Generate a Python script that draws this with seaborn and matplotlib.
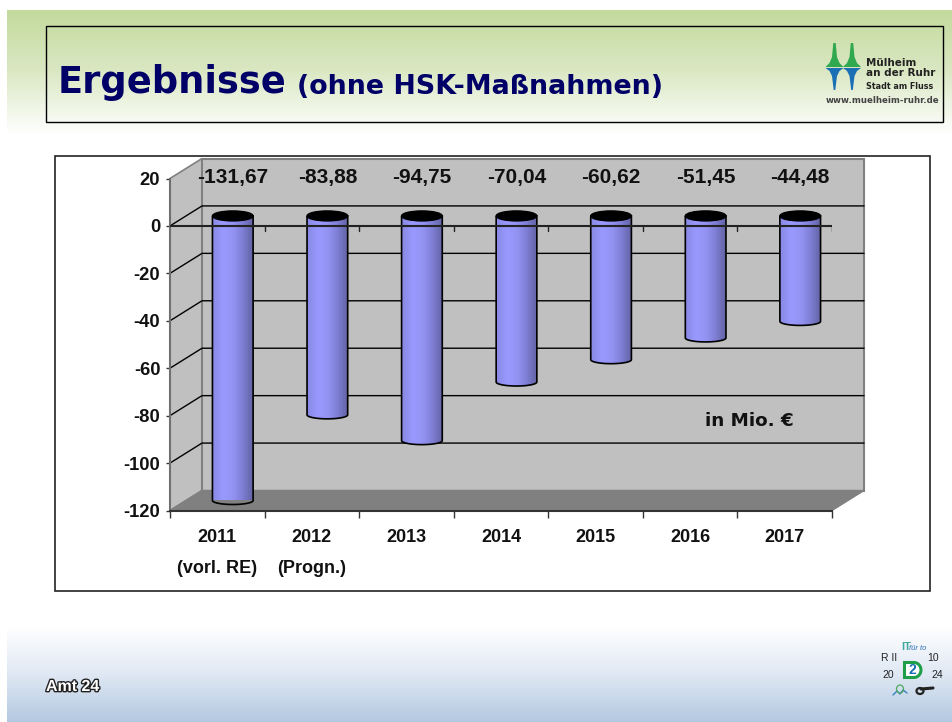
import numpy as np
import pandas as pd
import seaborn as sns
import matplotlib.pyplot as plt
import matplotlib.patheffects as pe
from matplotlib.colors import LinearSegmentedColormap
from matplotlib.patches import Ellipse, PathPatch, Polygon, Rectangle
from matplotlib.path import Path

years = ["2011", "2012", "2013", "2014", "2015", "2016", "2017"]
values = [-131.67, -83.88, -94.75, -70.04, -60.62, -51.45, -44.48]
value_labels = ["-131,67", "-83,88", "-94,75", "-70,04", "-60,62", "-51,45", "-44,48"]
sub_labels = ["(vorl. RE)", "(Progn.)", "", "", "", "", ""]
y_ticks = [20, 0, -20, -40, -60, -80, -100, -120]

W, H = 952, 722
# front plane of the fake 3d chart, pixels
FX0, FX1, FY0, FY1 = 170, 832, 178.5, 510.5
DX, DY = 32, -20  # depth offset of the back wall

sns.set_theme(style="white")
plt.rcParams["font.family"] = ["Liberation Sans", "DejaVu Sans"]


def px_axes(fig, x0, x1, y0, y1, **kw):
    return fig.add_axes([x0 / W, 1 - y1 / H, (x1 - x0) / W, (y1 - y0) / H], **kw)


def y_px(v):
    return FY1 - (v + 120) / 140 * (FY1 - FY0)


fig = plt.figure(figsize=(W / 100, H / 100), dpi=100, facecolor="white")

# background layer in pixel coordinates
bg = fig.add_axes([0, 0, 1, 1], zorder=0)
bg.set_xlim(0, W)
bg.set_ylim(H, 0)
bg.axis("off")

top_cmap = LinearSegmentedColormap.from_list("top", ["#c2da9c", "#dbe8c4", "#ffffff"])
bot_cmap = LinearSegmentedColormap.from_list("bot", ["#ffffff", "#dfe8f3", "#b3c8e1"])
grad = np.linspace(0, 1, 256).reshape(-1, 1)
bg.imshow(grad, cmap=top_cmap, extent=[7, W, 134, 10], aspect="auto", zorder=0)
bg.imshow(grad, cmap=bot_cmap, extent=[7, W, H, 627], aspect="auto", zorder=0)
bg.set_xlim(0, W)
bg.set_ylim(H, 0)

# title box
bg.add_patch(Rectangle((46, 25.5), 897, 96.5, fc="none", ec="black", lw=1, zorder=2))
bg.text(58, 93, "Ergebnisse", family="DejaVu Sans", weight="bold", fontsize=26.5,
        color="#000066", va="baseline", zorder=3)
bg.text(297, 94, "(ohne HSK-Maßnahmen)", family="DejaVu Sans", weight="bold", fontsize=19.4,
        color="#000066", va="baseline", zorder=3)

# city logo
for cx in [834.5, 852]:
    bg.add_patch(Polygon([(cx - 9, 67), (cx - 5, 63), (cx - 2.5, 57), (cx - 1.2, 43), (cx + 1.2, 43),
                          (cx + 2.5, 57), (cx + 5, 63), (cx + 9, 67)],
                         fc="#2fa84f", ec="none", zorder=3))
    bg.add_patch(Polygon([(cx - 9, 68), (cx + 9, 68), (cx + 5, 71), (cx + 2.5, 76), (cx + 0.8, 90),
                          (cx - 0.8, 90), (cx - 2.5, 76), (cx - 5, 71)],
                         fc="#1b6fb5", ec="none", zorder=3))
bg.text(866, 66, "Mülheim", family="DejaVu Sans", weight="bold", fontsize=7.5, color="#222222", va="baseline", zorder=3)
bg.text(866, 76, "an der Ruhr", family="DejaVu Sans", weight="bold", fontsize=7.5, color="#222222", va="baseline", zorder=3)
bg.text(866, 89, "Stadt am Fluss", family="DejaVu Sans", weight="bold", fontsize=5.8, color="#222222", va="baseline", zorder=3)
bg.text(826, 103, "www.muelheim-ruhr.de", family="DejaVu Sans", weight="bold", fontsize=6.2, color="#444444", va="baseline", zorder=3)

# chart frame and walls
bg.add_patch(Rectangle((55, 156), 875, 435, fc="white", ec="#222222", lw=1.2, zorder=2))
wall_ec = "#808080"
bg.add_patch(Polygon([(FX0, FY0), (FX0 + DX, FY0 + DY), (FX0 + DX, FY1 + DY), (FX0, FY1)],
                     fc="#c0c0c0", ec=wall_ec, lw=1.2, zorder=3))
bg.add_patch(Rectangle((FX0 + DX, FY0 + DY), FX1 - FX0, FY1 - FY0, fc="#c0c0c0", ec=wall_ec, lw=1.5, zorder=3))
bg.add_patch(Polygon([(FX0, FY1), (FX0 + DX, FY1 + DY), (FX1 + DX, FY1 + DY), (FX1, FY1)],
                     fc="#808080", ec="#808080", lw=1, zorder=4))
for tick in y_ticks[1:-1]:
    py = y_px(tick)
    bg.plot([FX0, FX0 + DX, FX1 + DX], [py, py + DY, py + DY], color="black", lw=1, zorder=4)

bg.text(705, 426, "in Mio. €", family="DejaVu Sans", weight="bold", fontsize=13.2, color="#111111",
        va="baseline", zorder=5)

# footer
bg.text(46, 691, "Amt 24", weight="bold", fontsize=11.5, color="white", va="baseline", zorder=3,
        path_effects=[pe.withStroke(linewidth=2, foreground="#222222")])
for x, y, s in [(881, 661, "R II"), (927, 661, "10"), (882, 678, "20"), (931, 678, "24")]:
    bg.text(x, y, s, fontsize=7.5, color="#222222", va="baseline", zorder=3)
bg.text(901, 650, "IT", weight="bold", fontsize=8, color="#3fa9a0", va="baseline", zorder=3)
bg.text(909, 650, "für to", style="italic", fontsize=5.5, color="#2a6fb0", va="baseline", zorder=3)
# D mark
arc = [(914 + 7 * np.cos(a), 670 + 7.5 * np.sin(a)) for a in np.linspace(-np.pi / 2, np.pi / 2, 12)]
bg.add_patch(Polygon([(904.5, 662.5)] + arc + [(904.5, 677.5)], fc="white", ec="#1f9e4a", lw=2.2, zorder=3))
bg.text(912, 670, "2", weight="bold", fontsize=10, color="#1b6fb5", ha="center", va="center", zorder=4)
# key and wave icons
bg.plot([921, 933], [689, 688], color="#222222", lw=2.2, zorder=3)
bg.add_patch(Ellipse((920, 691), 7, 6, fc="none", ec="#222222", lw=1.6, zorder=3))
bg.plot([893, 897, 900, 903, 907], [695, 691, 694, 690, 693], color="#3a80c0", lw=1, zorder=3)
bg.add_patch(Ellipse((900, 689), 7, 8, fc="none", ec="#4fa860", lw=0.9, zorder=3))

# bars sit half way into the depth of the chart
df = pd.DataFrame({"year": years, "value": values})
bar_ax = px_axes(fig, FX0 + DX / 2 - 0.5, FX1 + DX / 2 - 0.5, FY0 + DY / 2, FY1 + DY / 2, zorder=1)
bar_ax.patch.set_alpha(0)
sns.barplot(data=df, x="year", y="value", color="#9999ff", width=0.43, saturation=1, ax=bar_ax)
bar_ax.set_xlim(-0.5, 6.5)
bar_ax.set_ylim(-120, 20)
bar_ax.axis("off")

cyl_cmap = LinearSegmentedColormap.from_list("cyl", ["#8a8ae6", "#9999ff", "#9494f4", "#8080d8", "#6666aa"])
cyl_grad = np.round(np.linspace(0, 1, 14) * 13) / 13
cyl_grad = cyl_grad.reshape(1, -1)
units_per_px = 140 / (FY1 - FY0)
cap_h = 10 * units_per_px
foot_h = 8 * units_per_px

for bar, label in zip(bar_ax.patches, value_labels):
    x0, w = bar.get_x(), bar.get_width()
    bottom = max(bar.get_height(), -120)
    cx = x0 + w / 2
    bar.set_visible(False)
    # body with rounded foot, clipped gradient
    t = np.linspace(np.pi, 2 * np.pi, 30)
    foot = [(cx + w / 2 * np.cos(a), bottom + foot_h / 2 * np.sin(a)) for a in t]
    verts = [(x0, 0)] + foot + [(x0 + w, 0), (x0, 0)]
    shape = PathPatch(Path(verts), fc="none", ec="black", lw=1.2, zorder=3, clip_on=False)
    img = bar_ax.imshow(cyl_grad, cmap=cyl_cmap, extent=[x0, x0 + w, bottom - foot_h, 0],
                        aspect="auto", zorder=2, clip_on=True)
    bar_ax.add_patch(shape)
    img.set_clip_path(shape)
    bar_ax.add_patch(Ellipse((cx, 0), w, cap_h, fc="black", ec="black", lw=1, zorder=4, clip_on=False))
    bar_ax.text(cx, 16.1, label, ha="center", va="center", weight="bold", fontsize=15, color="#111111", clip_on=False)
bar_ax.set_xlim(-0.5, 6.5)
bar_ax.set_ylim(-120, 20)

# front plane holds the axis lines, ticks and labels
ax = px_axes(fig, FX0, FX1, FY0, FY1, zorder=2)
ax.patch.set_alpha(0)
ax.set_xlim(0, 7)
ax.set_ylim(-120, 20)
ax.set_yticks(y_ticks)
ax.set_yticklabels([str(t) for t in y_ticks], weight="bold", fontsize=13.2, color="#111111")
ax.set_xticks(range(8))
ax.set_xticklabels([])
ax.tick_params(axis="x", length=5, width=1, color="#333333", bottom=True)
ax.tick_params(axis="y", length=3, width=1, color="#333333", left=True, pad=4)
for name in ["top", "right"]:
    ax.spines[name].set_visible(False)
ax.spines["left"].set_color("#707070")
ax.spines["left"].set_linewidth(1.5)
ax.spines["bottom"].set_color("#333333")
ax.spines["bottom"].set_linewidth(1.5)
ax.axhline(0, color="#222222", lw=1.5, zorder=5)
for i in range(1, 8):
    ax.plot([i, i], [0, -2.2], color="#222222", lw=1, zorder=5)
for i, (year, sub) in enumerate(zip(years, sub_labels)):
    ax.text(i + 0.5, -131.4, year, ha="center", va="center", weight="bold", fontsize=13, color="#111111", clip_on=False)
    if sub:
        ax.text(i + 0.5, -144.5, sub, ha="center", va="center", weight="bold", fontsize=13, color="#111111", clip_on=False)

fig.savefig("out.png", dpi=100)
